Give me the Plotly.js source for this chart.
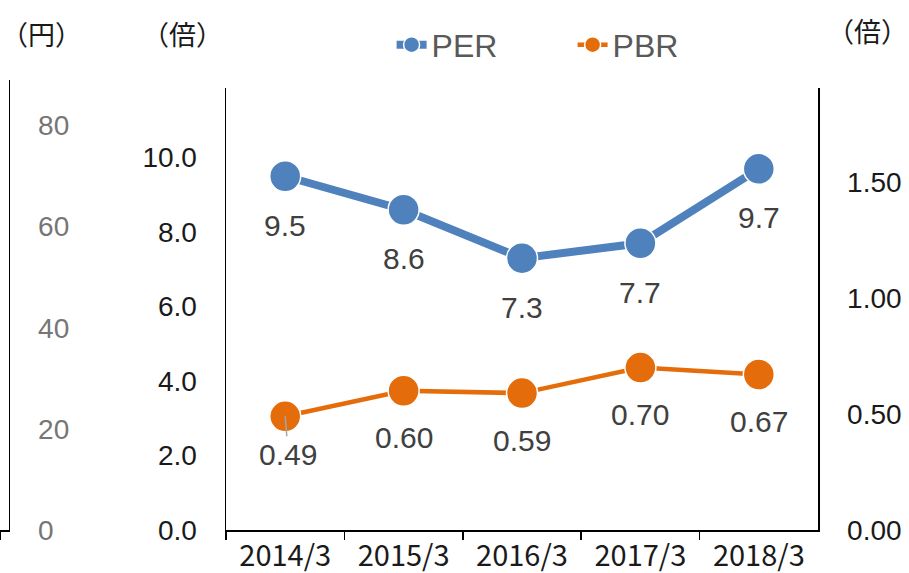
<!DOCTYPE html>
<html>
<head>
<meta charset="utf-8">
<script src="https://cdn.plot.ly/plotly-3.0.1.min.js"></script>
<style>html,body{margin:0;padding:0;background:#fff;}#chart{width:909px;height:573px;}</style>
</head>
<body>
<div id="chart"></div>
<script>
var categories = ["2014/3", "2015/3", "2016/3", "2017/3", "2018/3"];
var perValues = [9.5, 8.6, 7.3, 7.7, 9.7];
var pbrValues = [0.49, 0.60, 0.59, 0.70, 0.67];
var perTicks = [0, 2, 4, 6, 8, 10];
var pbrTicks = [0, 0.5, 1.0, 1.5];
var yenTicks = [0, 20, 40, 60, 80];

var BLUE = "#4f81bd", ORANGE = "#e46c0a";
var TICKFONT = {family: "Liberation Sans, Arial, sans-serif", size: 28, color: "#1a1a1a"};
var LABELFONT = {family: "Liberation Sans, Arial, sans-serif", size: 30, color: "#404040"};
var CJK = {family: "Noto Sans CJK JP, sans-serif", size: 27, color: "#1a1a1a"};

var traces = [
  {x: categories, y: perValues, name: "PER", type: "scatter", mode: "lines+markers",
   line: {color: BLUE, width: 8}, marker: {color: BLUE, size: 31, line: {color: "#ffffff", width: 1.5}},
   xaxis: "x", yaxis: "y", hoverinfo: "skip"},
  {x: categories, y: pbrValues, name: "PBR", type: "scatter", mode: "lines+markers",
   line: {color: ORANGE, width: 4.5}, marker: {color: ORANGE, size: 31, line: {color: "#ffffff", width: 1.5}},
   xaxis: "x", yaxis: "y2", hoverinfo: "skip"},
  {x: [], y: [], type: "scatter", mode: "markers", xaxis: "x2", yaxis: "y3", showlegend: false, hoverinfo: "skip"}
];

var annotations = [];
categories.forEach(function (c, i) {
  annotations.push({x: c, y: perValues[i], xref: "x", yref: "y", text: perValues[i].toFixed(1),
    showarrow: false, yshift: -49, font: LABELFONT});
  if (i === 0) {
    annotations.push({x: c, y: pbrValues[i], xref: "x", yref: "y2", text: pbrValues[i].toFixed(2),
      showarrow: true, arrowhead: 0, arrowwidth: 1.5, arrowcolor: "#a6a6a6", ax: 3, ay: 38,
      standoff: 0, font: LABELFONT});
  } else {
    annotations.push({x: c, y: pbrValues[i], xref: "x", yref: "y2", text: pbrValues[i].toFixed(2),
      showarrow: false, yshift: -47, font: LABELFONT});
  }
});
annotations.push({x: 0.0513, y: 1.104, xref: "paper", yref: "paper", text: "（円）", showarrow: false, font: CJK, xanchor: "center", yanchor: "middle"});
annotations.push({x: 0.2225, y: 1.104, xref: "paper", yref: "paper", text: "（倍）", showarrow: false, font: CJK, xanchor: "center", yanchor: "middle"});
annotations.push({x: 1.06, y: 1.111, xref: "paper", yref: "paper", text: "（倍）", showarrow: false, font: CJK, xanchor: "center", yanchor: "middle"});

var layout = {
  width: 909, height: 573,
  margin: {l: 0, r: 91, t: 80, b: 43, pad: 0},
  paper_bgcolor: "#ffffff", plot_bgcolor: "#ffffff",
  showlegend: true,
  legend: {orientation: "h", x: 0.70, xanchor: "center", y: 1.078, yanchor: "middle",
    font: {family: "Liberation Sans, Arial, sans-serif", size: 32, color: "#595959"},
    bgcolor: "rgba(0,0,0,0)", entrywidth: 136},
  xaxis: {type: "category", domain: [0.2763, 1], range: [-0.5, 4.5], anchor: "y",
    showline: true, linecolor: "#000", linewidth: 1.5, ticks: "outside", tickson: "boundaries",
    ticklen: 8, tickcolor: "#000", tickwidth: 1.5, showgrid: false, zeroline: false,
    tickfont: {family: "Noto Sans CJK JP, sans-serif", size: 29, color: "#1a1a1a"}},
  yaxis: {domain: [0, 0.9822], range: [0, 11.87], anchor: "x", side: "left",
    tickvals: perTicks, tickformat: ".1f", showline: true, linecolor: "#000", linewidth: 1.5,
    ticks: "", showgrid: false, zeroline: false, tickfont: TICKFONT, ticklabelstandoff: 22},
  yaxis2: {overlaying: "y", range: [0, 1.905], anchor: "x", side: "right",
    tickvals: pbrTicks, tickformat: ".2f", showline: true, linecolor: "#000", linewidth: 1.5,
    ticks: "", showgrid: false, zeroline: false, tickfont: TICKFONT, ticklabelstandoff: 22},
  xaxis2: {domain: [0, 0.011], range: [0, 1], anchor: "y3", showline: true, linecolor: "#000",
    linewidth: 1.5, tickvals: [0], ticks: "outside", ticklen: 8, tickcolor: "#000", tickwidth: 1.5,
    showticklabels: false, showgrid: false, zeroline: false},
  yaxis3: {domain: [0, 1], range: [0, 89], anchor: "x2", side: "right",
    tickvals: yenTicks, tickformat: "d", showline: true, linecolor: "#000", linewidth: 1.5,
    ticks: "", showgrid: false, zeroline: false,
    tickfont: {family: "Liberation Sans, Arial, sans-serif", size: 28, color: "#767676"}, ticklabelstandoff: 22},
  annotations: annotations,
  hovermode: false
};

Plotly.newPlot("chart", traces, layout, {displayModeBar: false, staticPlot: true});
</script>
</body>
</html>
